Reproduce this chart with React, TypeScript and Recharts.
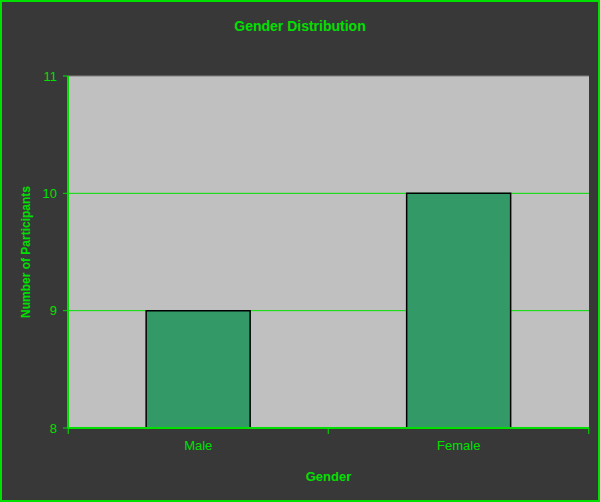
import React from 'react';
import { BarChart, Bar, XAxis, YAxis, CartesianGrid, ReferenceLine } from 'recharts';

const genders = ['Male', 'Female'];
const participants = [9, 10];
const yTicks = [8, 9, 10, 11];

const data = genders.map((g, i) => ({ gender: g, count: participants[i] }));

const GREEN = '#00e000';
const FONT = '"Liberation Sans", Arial, sans-serif';

// category label plus Excel-style tick marks between categories
function GenderTick(props: any) {
  const { x, y, payload, index } = props;
  const half = 130;
  const top = y - 8;
  return (
    <g>
      {index === 0 && <line x1={x - half} x2={x - half} y1={top} y2={top + 6} stroke={GREEN} />}
      <line x1={x + half} x2={x + half} y1={top} y2={top + 6} stroke={GREEN} />
      <text x={x} y={y + 14} textAnchor="middle" fill={GREEN} fontSize={13} fontFamily={FONT}>
        {payload.value}
      </text>
    </g>
  );
}

export default function App() {
  return (
    <div
      style={{
        position: 'fixed',
        left: 0,
        top: 0,
        width: 600,
        height: 502,
        boxSizing: 'border-box',
        background: '#383838',
        border: `2px solid ${GREEN}`,
        fontFamily: FONT,
      }}
    >
      <div
        style={{
          position: 'absolute',
          left: 0,
          right: 0,
          top: 16,
          textAlign: 'center',
          color: GREEN,
          fontWeight: 'bold',
          fontSize: 14,
        }}
      >
        Gender Distribution
      </div>
      <div style={{ position: 'absolute', left: -2, top: -2 }}>
        <BarChart
          width={600}
          height={502}
          data={data}
          margin={{ top: 76, right: 11, bottom: 0, left: 0 }}
          barCategoryGap="30%"
        >
          <CartesianGrid vertical={false} horizontalValues={[9, 10]} stroke={GREEN} fill="#c0c0c0" fillOpacity={1} />
          <ReferenceLine y={11} stroke="#808080" />
          <XAxis
            dataKey="gender"
            axisLine={{ stroke: GREEN, strokeWidth: 2 }}
            tickLine={false}
            tick={<GenderTick />}
            interval={0}
            height={74}
            label={{ value: 'Gender', position: 'insideBottom', offset: 21, fill: GREEN, fontWeight: 'bold', fontSize: 13, fontFamily: FONT }}
          />
          <YAxis
            domain={[8, 11]}
            ticks={yTicks}
            allowDataOverflow
            width={68}
            axisLine={{ stroke: GREEN, strokeWidth: 2 }}
            tickLine={{ stroke: GREEN }}
            tickSize={5}
            tickMargin={6}
            tick={{ fill: GREEN, fontSize: 13, fontFamily: FONT }}
            label={{
              value: 'Number of Participants',
              angle: -90,
              position: 'insideLeft',
              offset: 26,
              style: { textAnchor: 'middle' },
              fill: GREEN,
              fontWeight: 'bold',
              fontSize: 12,
              fontFamily: FONT,
            }}
          />
          <YAxis yAxisId="r" orientation="right" width={0} tick={false} axisLine={{ stroke: '#808080' }} />
          <Bar dataKey="count" fill="#339966" stroke="#000000" strokeWidth={1.5} isAnimationActive={false} />
        </BarChart>
      </div>
    </div>
  );
}
